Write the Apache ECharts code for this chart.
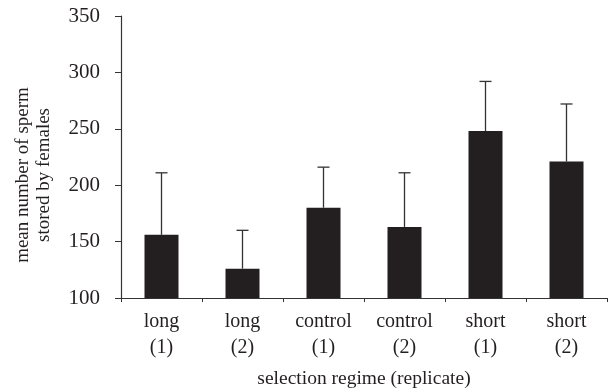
<!DOCTYPE html>
<html><head><meta charset="utf-8">
<script src="https://cdn.jsdelivr.net/npm/echarts@6/dist/echarts.min.js"></script>
<style>html,body{margin:0;padding:0;background:#fff}#c{width:608px;height:392px}</style>
</head><body><div id="c"></div>
<script>
var categories = ['long\n(1)', 'long\n(2)', 'control\n(1)', 'control\n(2)', 'short\n(1)', 'short\n(2)'];
var means = [156, 126, 180, 163, 248, 221];
var upperErr = [211, 160, 216, 211, 292, 272];
var yTicks = [100, 150, 200, 250, 300, 350];
var yTitle = 'mean number of sperm\nstored by females';
var xTitle = 'selection regime (replicate)';

var FONT = 'Liberation Serif';
var TXT = '#231f20';
var chart = echarts.init(document.getElementById('c'), null, {renderer: 'canvas'});
chart.setOption({
  animation: false,
  backgroundColor: '#fff',
  grid: {left: 121, right: 1, top: 16, bottom: 94, containLabel: false, outerBoundsMode: 'none'},
  xAxis: {
    type: 'category', data: categories, boundaryGap: true,
    axisLine: {lineStyle: {color: '#333', width: 1.2}},
    axisTick: {show: true, alignWithLabel: false, length: 4, lineStyle: {color: '#333'}},
    axisLabel: {color: TXT, fontFamily: FONT, fontSize: 20, lineHeight: 26, margin: 11, interval: 0},
    name: xTitle, nameLocation: 'middle', nameGap: 71,
    nameTextStyle: {color: TXT, fontFamily: FONT, fontSize: 19.5}
  },
  yAxis: {
    type: 'value', min: yTicks[0], max: yTicks[yTicks.length - 1], interval: 50,
    axisLine: {show: true, lineStyle: {color: '#333', width: 1.2}},
    axisTick: {show: true, length: 6, lineStyle: {color: '#333'}},
    splitLine: {show: false},
    axisLabel: {color: TXT, fontFamily: FONT, fontSize: 21, margin: 21}
  },
  graphic: [{
    type: 'text', x: 34, y: 175, rotation: Math.PI / 2,
    style: {text: yTitle, font: '19px "Liberation Serif"', fill: TXT, textAlign: 'center', textVerticalAlign: 'middle', lineHeight: 21}
  }],
  series: [{
    type: 'bar', data: means, barWidth: 34,
    itemStyle: {color: '#231f20'}
  }, {
    type: 'custom',
    data: upperErr.map(function (u, i) { return [i, means[i], u]; }),
    renderItem: function (params, api) {
      var b = api.coord([api.value(0), api.value(1)]);
      var t = api.coord([api.value(0), api.value(2)]);
      var w = 6;
      return {type: 'group', children: [
        {type: 'line', shape: {x1: b[0], y1: b[1], x2: t[0], y2: t[1]}, style: {stroke: '#333', lineWidth: 1.3}},
        {type: 'line', shape: {x1: t[0] - w, y1: t[1], x2: t[0] + w, y2: t[1]}, style: {stroke: '#333', lineWidth: 1.3}}
      ]};
    },
    z: 3
  }]
});
</script></body></html>
